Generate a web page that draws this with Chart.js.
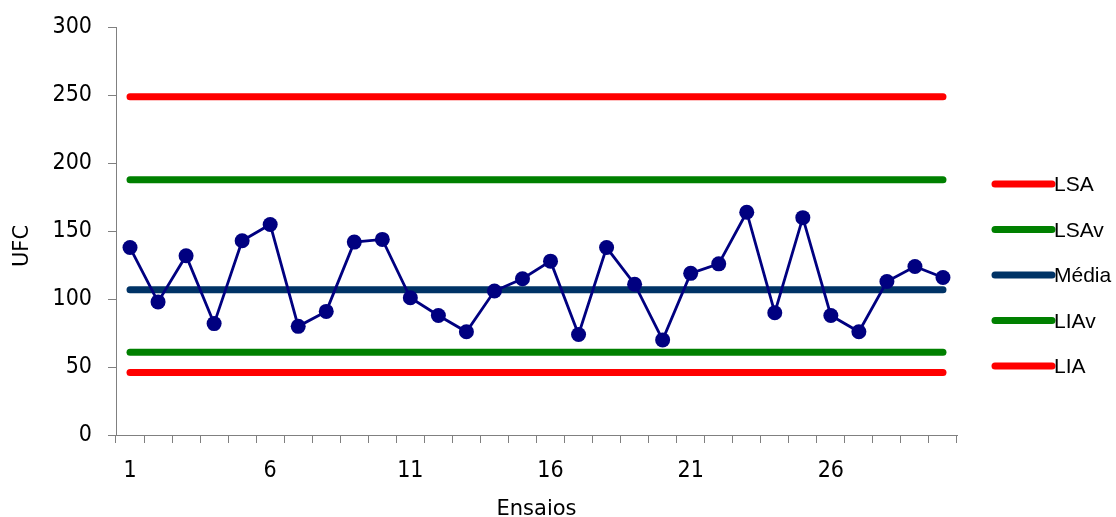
<!DOCTYPE html>
<html>
<head>
<meta charset="utf-8">
<script src="https://cdn.jsdelivr.net/npm/chart.js@4/dist/chart.umd.min.js"></script>
<style>
  html, body { margin: 0; padding: 0; background: #ffffff; }
  #chart { display: block; }
</style>
</head>
<body>
<canvas id="chart" width="1116" height="517"></canvas>
<script>
// Ensaios (x categories)
const ensaios = ['1','2','3','4','5','6','7','8','9','10','11','12','13','14','15',
                 '16','17','18','19','20','21','22','23','24','25','26','27','28','29','30'];
// UFC por ensaio
const ufc = [138, 98, 132, 82, 143, 155, 80, 91, 142, 144, 101, 88, 76, 106, 115,
             128, 74, 138, 111, 70, 119, 126, 164, 90, 160, 88, 76, 113, 124, 116];
// Limites de controlo
const limiteNomes = ['LSA', 'LSAv', 'Média', 'LIAv', 'LIA'];
const limiteValores = [249, 188, 107, 61, 46];
const limiteCores = ['#ff0000', '#008000', '#003366', '#008000', '#ff0000'];
// Eixo Y
const yTicks = [0, 50, 100, 150, 200, 250, 300];
const yTitulo = 'UFC';

const limitDatasets = limiteNomes.map((nome, i) => ({
  label: nome,
  data: ensaios.map(() => limiteValores[i]),
  borderColor: limiteCores[i],
  backgroundColor: limiteCores[i],
  borderWidth: 7,
  borderCapStyle: 'round',
  pointRadius: 0,
  pointHoverRadius: 0,
  order: 1,
  inLegend: true
}));

const dataDataset = {
  label: 'UFC',
  data: ufc,
  borderColor: '#000080',
  backgroundColor: '#000080',
  borderWidth: 2.8,
  pointRadius: 7.5,
  pointBackgroundColor: '#000080',
  pointBorderColor: '#000080',
  pointBorderWidth: 0,
  order: 0,
  inLegend: false
};

// Side legend and rotated y title
const extras = {
  id: 'extras',
  afterDraw(chart) {
    const ctx = chart.ctx;
    const items = chart.data.datasets.filter(d => d.inLegend);
    const x0 = 995, x1 = 1052, yStart = 184, step = 45.5;
    ctx.save();
    items.forEach((d, i) => {
      const y = yStart + i * step;
      ctx.beginPath();
      ctx.lineCap = 'round';
      ctx.lineWidth = 7;
      ctx.strokeStyle = d.borderColor;
      ctx.moveTo(x0, y);
      ctx.lineTo(x1, y);
      ctx.stroke();
      ctx.fillStyle = '#000000';
      ctx.font = '21px "Liberation Sans", Arial, sans-serif';
      ctx.textAlign = 'left';
      ctx.textBaseline = 'middle';
      ctx.fillText(d.label, x1 + 2, y + 1.5);
    });
    ctx.translate(22, 246);
    ctx.rotate(-Math.PI / 2);
    ctx.font = '21px "DejaVu Sans"';
    ctx.textAlign = 'center';
    ctx.textBaseline = 'middle';
    ctx.fillStyle = '#000000';
    ctx.fillText(yTitulo, 0, 1);
    ctx.restore();
  }
};

new Chart(document.getElementById('chart'), {
  type: 'line',
  data: {
    labels: ensaios,
    datasets: [dataDataset, ...limitDatasets]
  },
  options: {
    responsive: false,
    devicePixelRatio: 1,
    animation: false,
    events: [],
    layout: { padding: { top: 23, right: 159, bottom: 0, left: 0 } },
    plugins: {
      legend: { display: false },
      tooltip: { enabled: false }
    },
    elements: { line: { tension: 0 } },
    scales: {
      x: {
        type: 'category',
        offset: true,
        grid: {
          offset: true,
          drawOnChartArea: false,
          drawTicks: true,
          tickLength: 8,
          color: '#808080',
          lineWidth: 1
        },
        border: { display: true, color: '#808080', width: 1 },
        ticks: {
          autoSkip: false,
          maxRotation: 0,
          color: '#000000',
          font: { family: 'DejaVu Sans Condensed', size: 23 },
          padding: 14,
          callback: (v, i) => (i % 5 === 0 ? ensaios[i] : '')
        },
        title: {
          display: true,
          text: 'Ensaios',
          color: '#000000',
          font: { family: 'DejaVu Sans', size: 21, lineHeight: 0.7 },
          padding: { top: 0, bottom: 0 }
        },
        afterFit(scale) { scale.height = 82; }
      },
      y: {
        min: 0,
        max: 300,
        afterBuildTicks(scale) { scale.ticks = yTicks.map(v => ({ value: v })); },
        grid: {
          drawOnChartArea: false,
          drawTicks: true,
          tickLength: 8,
          color: '#808080',
          lineWidth: 1
        },
        border: { display: true, color: '#808080', width: 1 },
        ticks: {
          color: '#000000',
          font: { family: 'DejaVu Sans Condensed', size: 23, lineHeight: 1 },
          padding: 16
        },
        afterFit(scale) { scale.width = 116; }
      }
    }
  },
  plugins: [extras]
});
</script>
</body>
</html>
